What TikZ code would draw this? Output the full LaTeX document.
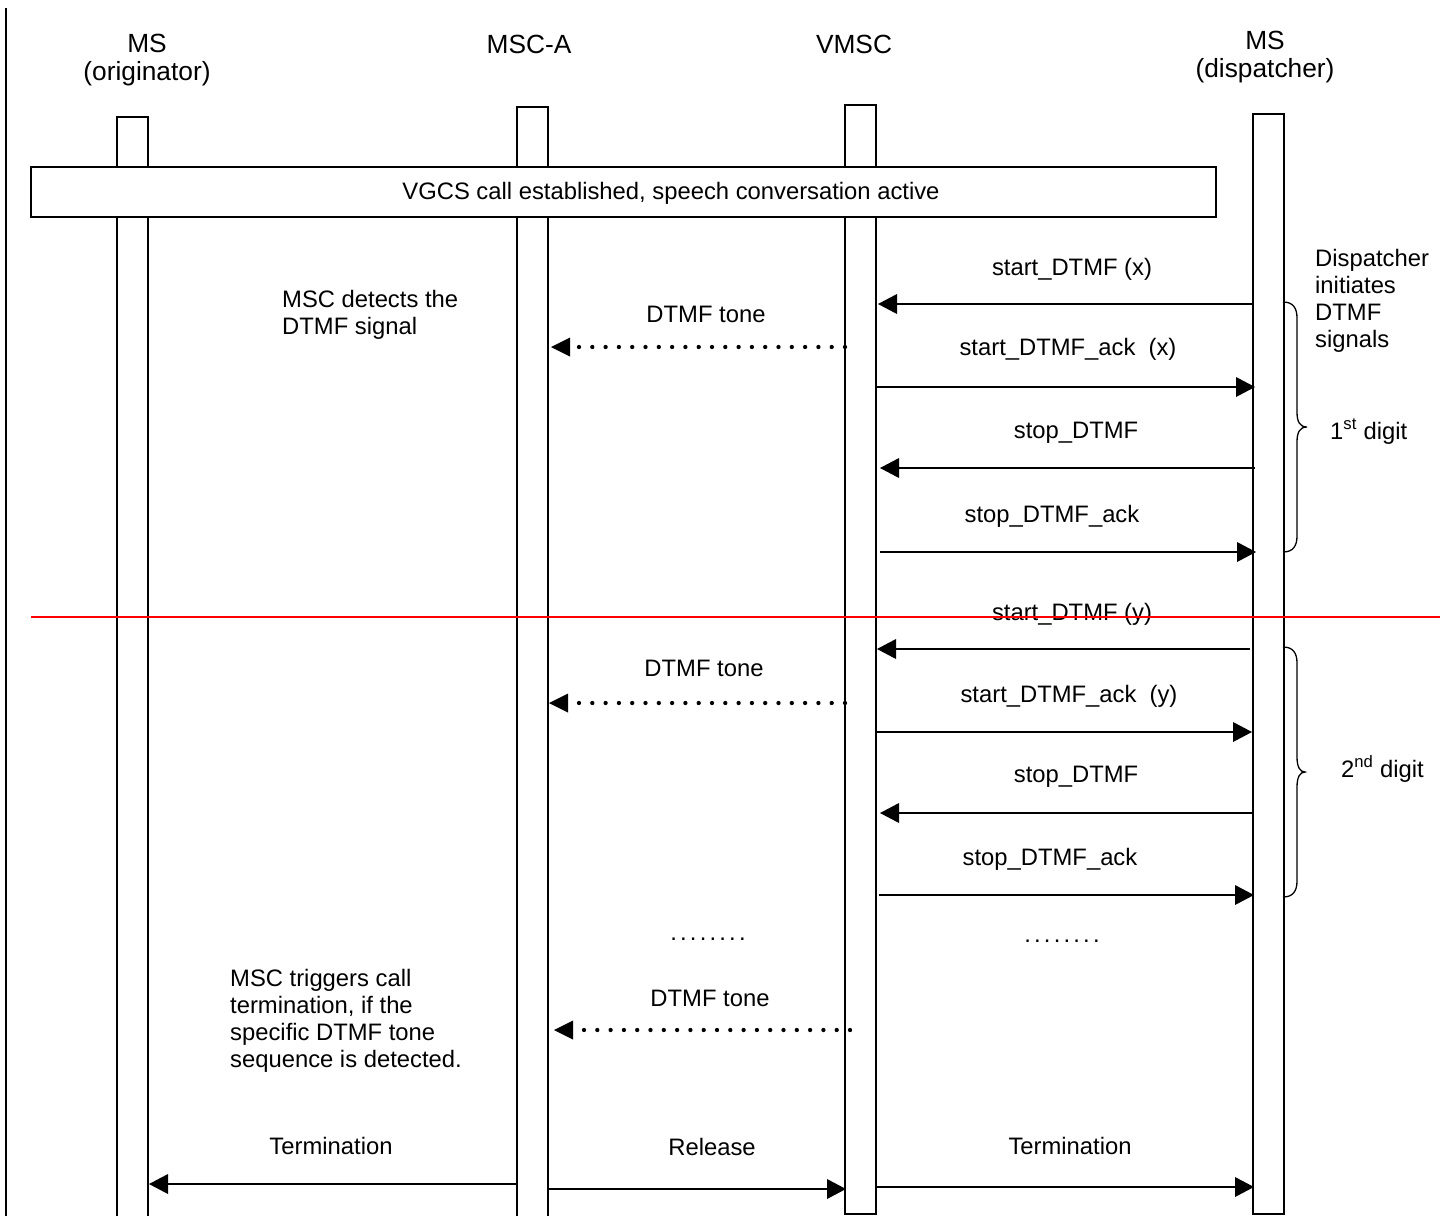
\documentclass[tikz,border=0pt]{standalone}
\usepackage{fontspec}
\setmainfont{Liberation Sans}
\usetikzlibrary{arrows.meta}
\newcommand\mydots{.\kern3.2pt.\kern3.2pt.\kern3.2pt.\kern3.2pt.\kern3.2pt.\kern3.2pt.\kern3.2pt.}
\begin{document}
\begin{tikzpicture}[x=1pt,y=-1pt,
  every node/.style={font=\fontsize{23.8}{27}\selectfont, inner sep=0pt},
  lbl/.style={anchor=base},
  hdr/.style={anchor=base, font=\fontsize{26.3}{29}\selectfont},
  lblw/.style={anchor=base west},
  life/.style={line width=1.5pt},
  msgarrow/.style={line width=1.8pt, -{Triangle[length=19pt,width=20pt,line width=0pt]}},
  tonearrow/.style={line width=4.3pt, dash pattern=on 0pt off 13.3pt, line cap=round,
    -{Triangle[length=19pt,width=19pt,line width=0pt]}},
  bracepath/.style={line width=1.3pt}]
\useasboundingbox (0,0) rectangle (1446,1216);

% left border line
\coordinate (bt) at (6,8);
\coordinate (bb) at (6,1216);
\draw[line width=2pt] (bt) -- (bb);

% lifelines
\draw[life] (117,1216) |- (148,117) -- (148,1216);
\draw[life] (517,1216) |- (548,107) -- (548,1216);
\draw[life] (845,105) rectangle (876,1214);
\draw[life] (1253,114) rectangle (1284,1214);

% headers
\node[hdr] (h1a) at (147,52) {MS};
\node[hdr] (h1b) at (147,80) {(originator)};
\node[hdr] (h2) at (529,53) {MSC-A};
\node[hdr] (h3) at (854,53) {VMSC};
\node[hdr] (h4a) at (1265,49) {MS};
\node[hdr] (h4b) at (1265,77) {(dispatcher)};

% established box
\node (est) [draw, fill=white, line width=1.5pt, minimum width=1185pt, minimum height=50pt] at (623.5,192) {};
\node[lbl] (esttxt) at (671,199) {VGCS call established, speech conversation active};

% coordinates for messages
\coordinate (a1s) at (1253,304); \coordinate (a1e) at (878,304);
\coordinate (a2s) at (876,387);  \coordinate (a2e) at (1255,387);
\coordinate (a3s) at (1255,468); \coordinate (a3e) at (880,468);
\coordinate (a4s) at (880,552);  \coordinate (a4e) at (1256,552);
\coordinate (a5s) at (1250,649); \coordinate (a5e) at (877,649);
\coordinate (a6s) at (876,732);  \coordinate (a6e) at (1252,732);
\coordinate (a7s) at (1253,813); \coordinate (a7e) at (880,813);
\coordinate (a8s) at (879,895);  \coordinate (a8e) at (1254,895);
\coordinate (t1s) at (845,347);  \coordinate (t1e) at (551,347);
\coordinate (t2s) at (845,703);  \coordinate (t2e) at (549,703);
\coordinate (t3s) at (850,1030); \coordinate (t3e) at (554,1030);
\coordinate (b1s) at (517,1184); \coordinate (b1e) at (149,1184);
\coordinate (b2s) at (548,1189); \coordinate (b2e) at (846,1189);
\coordinate (b3s) at (876,1187); \coordinate (b3e) at (1254,1187);

\draw[msgarrow] (a1s) -- (a1e);
\draw[msgarrow] (a2s) -- (a2e);
\draw[msgarrow] (a3s) -- (a3e);
\draw[msgarrow] (a4s) -- (a4e);
\draw[msgarrow] (a5s) -- (a5e);
\draw[msgarrow] (a6s) -- (a6e);
\draw[msgarrow] (a7s) -- (a7e);
\draw[msgarrow] (a8s) -- (a8e);
\draw[tonearrow] (t1s) -- (t1e);
\draw[tonearrow] (t2s) -- (t2e);
\draw[tonearrow] (t3s) -- (t3e);
\draw[msgarrow] (b1s) -- (b1e);
\draw[msgarrow] (b2s) -- (b2e);
\draw[msgarrow] (b3s) -- (b3e);

% message labels
\node[lbl] (l1) at (1072,275) {start\_DTMF (x)};
\node[lbl] (l2) at (1068,355) {start\_DTMF\_ack\ \ (x)};
\node[lbl] (l3) at (1076,438) {stop\_DTMF};
\node[lbl] (l4) at (1052,522) {stop\_DTMF\_ack};
\node[lbl] (l5) at (1072,620) {start\_DTMF (y)};
\node[lbl] (l6) at (1069,702) {start\_DTMF\_ack\ \ (y)};
\node[lbl] (l7) at (1076,782) {stop\_DTMF};
\node[lbl] (l8) at (1050,865) {stop\_DTMF\_ack};
\node[lbl] (tl1) at (706,322) {DTMF tone};
\node[lbl] (tl2) at (704,676) {DTMF tone};
\node[lbl] (tl3) at (710,1006) {DTMF tone};
\node[lbl] (d1) at (708,940) {\mydots};
\node[lbl] (d2) at (1062,942) {\mydots};
\node[lbl] (bl1) at (331,1154) {Termination};
\node[lbl] (bl2) at (712,1155) {Release};
\node[lbl] (bl3) at (1070,1154) {Termination};

% annotations
\node[lblw] (n1a) at (282,307) {MSC detects the};
\node[lblw] (n1b) at (282,334) {DTMF signal};
\node[lblw] (n2a) at (230,986) {MSC triggers call};
\node[lblw] (n2b) at (230,1013) {termination, if the};
\node[lblw] (n2c) at (230,1040) {specific DTMF tone};
\node[lblw] (n2d) at (230,1067) {sequence is detected.};
\node[lblw] (n3a) at (1315,266) {Dispatcher};
\node[lblw] (n3b) at (1315,293) {initiates};
\node[lblw] (n3c) at (1315,320) {DTMF};
\node[lblw] (n3d) at (1315,347) {signals};
\node[lblw] (g1) at (1330,439) {1\textsuperscript{st} digit};
\node[lblw] (g2) at (1341,777) {2\textsuperscript{nd} digit};

% braces
\draw[bracepath] (1283,302) .. controls (1293,302) and (1297,308) .. (1297,318)
  -- (1297,412) .. controls (1297,422) and (1300,427) .. (1307,427)
  .. controls (1300,427) and (1297,432) .. (1297,442)
  -- (1297,536) .. controls (1297,546) and (1293,552) .. (1283,552);
\draw[bracepath] (1283,647) .. controls (1293,647) and (1297,653) .. (1297,663)
  -- (1297,757) .. controls (1297,767) and (1300,772) .. (1305,772)
  .. controls (1300,772) and (1297,777) .. (1297,787)
  -- (1297,881) .. controls (1297,891) and (1293,897) .. (1283,897);

% red separator
\coordinate (rl) at (31,617);
\coordinate (rr) at (1440,617);
\draw[red, line width=1.5pt] (rl) -- (rr);
\end{tikzpicture}
\end{document}
